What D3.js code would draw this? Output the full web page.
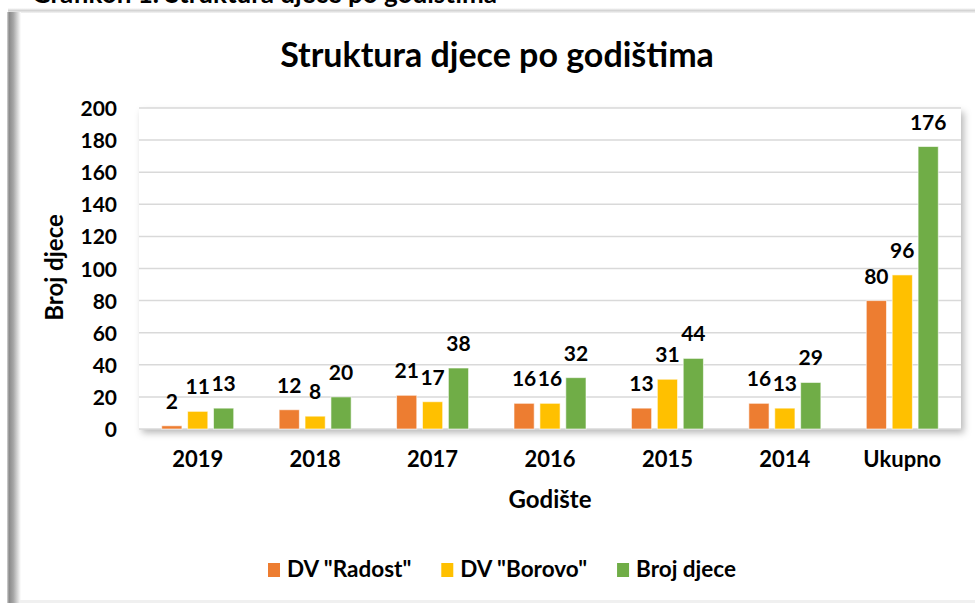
<!DOCTYPE html>
<html>
<head>
<meta charset="utf-8">
<script src="https://cdn.jsdelivr.net/npm/d3@7"></script>
<style>
  body { margin: 0; background: #fff; }
  text { font-family: Lato, "Open Sans", sans-serif; font-weight: bold; fill: #000; }
</style>
</head>
<body>
<div class="chart"></div>
<script>
// Data
const categories = ["2019", "2018", "2017", "2016", "2015", "2014", "Ukupno"];
const seriesNames = ['DV "Radost"', 'DV "Borovo"', "Broj djece"];
const radost = [2, 12, 21, 16, 13, 16, 80];
const borovo = [11, 8, 17, 16, 31, 13, 96];
const brojDjece = [13, 20, 38, 32, 44, 29, 176];
const colors = ["#ED7D31", "#FFC000", "#70AD47"];
const yTicks = [0, 20, 40, 60, 80, 100, 120, 140, 160, 180, 200];

const seriesValues = [radost, borovo, brojDjece];

const W = 975, H = 603;
const plot = {left: 139, right: 961, top: 108, bottom: 429};

const svg = d3.select("div.chart").append("svg")
  .attr("width", W)
  .attr("height", H);

const defs = svg.append("defs");

// shadow under the plot area
const shadow = defs.append("filter")
  .attr("id", "shadow")
  .attr("x", "-5%").attr("y", "-5%")
  .attr("width", "110%").attr("height", "115%");
shadow.append("feDropShadow")
  .attr("dx", 3).attr("dy", 4)
  .attr("stdDeviation", 3.5)
  .attr("flood-color", "#000")
  .attr("flood-opacity", 0.28);

const leftGrad = defs.append("linearGradient").attr("id", "leftbar");
leftGrad.append("stop").attr("offset", "0%").attr("stop-color", "#d8d8d8");
leftGrad.append("stop").attr("offset", "15%").attr("stop-color", "#8a8a8a");
leftGrad.append("stop").attr("offset", "45%").attr("stop-color", "#a6a6a6");
leftGrad.append("stop").attr("offset", "100%").attr("stop-color", "#ffffff");

const topGrad = defs.append("linearGradient").attr("id", "topbar")
  .attr("x1", 0).attr("y1", 0).attr("x2", 0).attr("y2", 1);
topGrad.append("stop").attr("offset", "0%").attr("stop-color", "#ffffff");
topGrad.append("stop").attr("offset", "50%").attr("stop-color", "#d4d4d4");
topGrad.append("stop").attr("offset", "100%").attr("stop-color", "#f4f4f4");

// caption above the chart, cut off by the top edge as in the screenshot
svg.append("text")
  .attr("x", 497)
  .attr("y", 3)
  .attr("text-anchor", "end")
  .style("font-size", "26px")
  .text("Grafikon 1. Struktura djece po godištima");

// frame of the chart object
svg.append("rect")
  .attr("x", 8).attr("y", 8)
  .attr("width", W - 8).attr("height", 5)
  .attr("fill", "url(#topbar)");
svg.append("rect")
  .attr("x", 7).attr("y", 12)
  .attr("width", 14).attr("height", H - 12)
  .attr("fill", "url(#leftbar)");
svg.append("rect")
  .attr("x", 20).attr("y", H - 3)
  .attr("width", W - 20).attr("height", 3)
  .attr("fill", "#f0f0f0");

const x = d3.scaleBand()
  .domain(categories)
  .range([plot.left, plot.right]);

const x1 = d3.scaleBand()
  .domain(seriesNames)
  .range([-36, 36])
  .paddingInner(0.22);

const y = d3.scaleLinear()
  .domain([0, 200])
  .range([plot.bottom, plot.top]);

// plot area background with shadow
svg.append("rect")
  .attr("x", plot.left)
  .attr("y", plot.top)
  .attr("width", plot.right - plot.left)
  .attr("height", plot.bottom - plot.top)
  .attr("fill", "#fff")
  .attr("filter", "url(#shadow)");

// gridlines
svg.append("g")
  .selectAll("line")
  .data(yTicks)
  .enter()
  .append("line")
  .attr("x1", plot.left)
  .attr("x2", plot.right)
  .attr("y1", d => y(d))
  .attr("y2", d => y(d))
  .attr("stroke", "#d9d9d9")
  .attr("stroke-width", 1.5);

// y tick labels
svg.append("g")
  .selectAll("text")
  .data(yTicks)
  .enter()
  .append("text")
  .attr("x", 117)
  .attr("y", d => y(d) + 8)
  .attr("text-anchor", "end")
  .style("font-size", "21px")
  .text(d => d);

// x tick labels
svg.append("g")
  .selectAll("text")
  .data(categories)
  .enter()
  .append("text")
  .attr("x", d => x(d) + x.bandwidth() / 2)
  .attr("y", 467)
  .attr("text-anchor", "middle")
  .style("font-size", "22px")
  .text(d => d);

// bars and value labels
const rows = [];
categories.forEach(function(c, i) {
  seriesNames.forEach(function(s, j) {
    rows.push({cat: c, series: s, value: seriesValues[j][i], color: colors[j]});
  });
});

const bx = d => x(d.cat) + x.bandwidth() / 2 + x1(d.series);

svg.append("g")
  .selectAll("rect")
  .data(rows)
  .enter()
  .append("rect")
  .attr("x", d => bx(d))
  .attr("y", d => y(d.value))
  .attr("width", x1.bandwidth())
  .attr("height", d => y(0) - y(d.value))
  .attr("fill", d => d.color)
  .attr("stroke", "#fff")
  .attr("stroke-opacity", 0.6)
  .attr("stroke-width", 1);

svg.append("g")
  .selectAll("text")
  .data(rows)
  .enter()
  .append("text")
  .attr("x", d => bx(d) + x1.bandwidth() / 2)
  .attr("y", d => y(d.value) - 17)
  .attr("text-anchor", "middle")
  .style("font-size", "21px")
  .text(d => d.value);

// titles
svg.append("text")
  .attr("x", 497)
  .attr("y", 67)
  .attr("text-anchor", "middle")
  .style("font-size", "34px")
  .text("Struktura djece po godištima");

svg.append("text")
  .attr("x", (plot.left + plot.right) / 2)
  .attr("y", 508)
  .attr("text-anchor", "middle")
  .style("font-size", "24px")
  .text("Godište");

svg.append("text")
  .attr("transform", `translate(63,${(plot.top + plot.bottom) / 2 - 1}) rotate(-90)`)
  .attr("text-anchor", "middle")
  .style("font-size", "24px")
  .text("Broj djece");

// legend
const legend = svg.append("g");
let lx = 0;
seriesNames.forEach(function(name, i) {
  const item = legend.append("g").attr("transform", `translate(${lx},0)`);
  item.append("rect")
    .attr("x", 0)
    .attr("y", -14)
    .attr("width", 12)
    .attr("height", 14)
    .attr("fill", colors[i]);
  const t = item.append("text")
    .attr("x", 19)
    .attr("y", 0)
    .style("font-size", "22.5px")
    .text(name);
  lx += 19 + t.node().getComputedTextLength() + 30;
});
const legendWidth = lx - 30;
legend.attr("transform", `translate(${502 - legendWidth / 2},577)`);
</script>
</body>
</html>
